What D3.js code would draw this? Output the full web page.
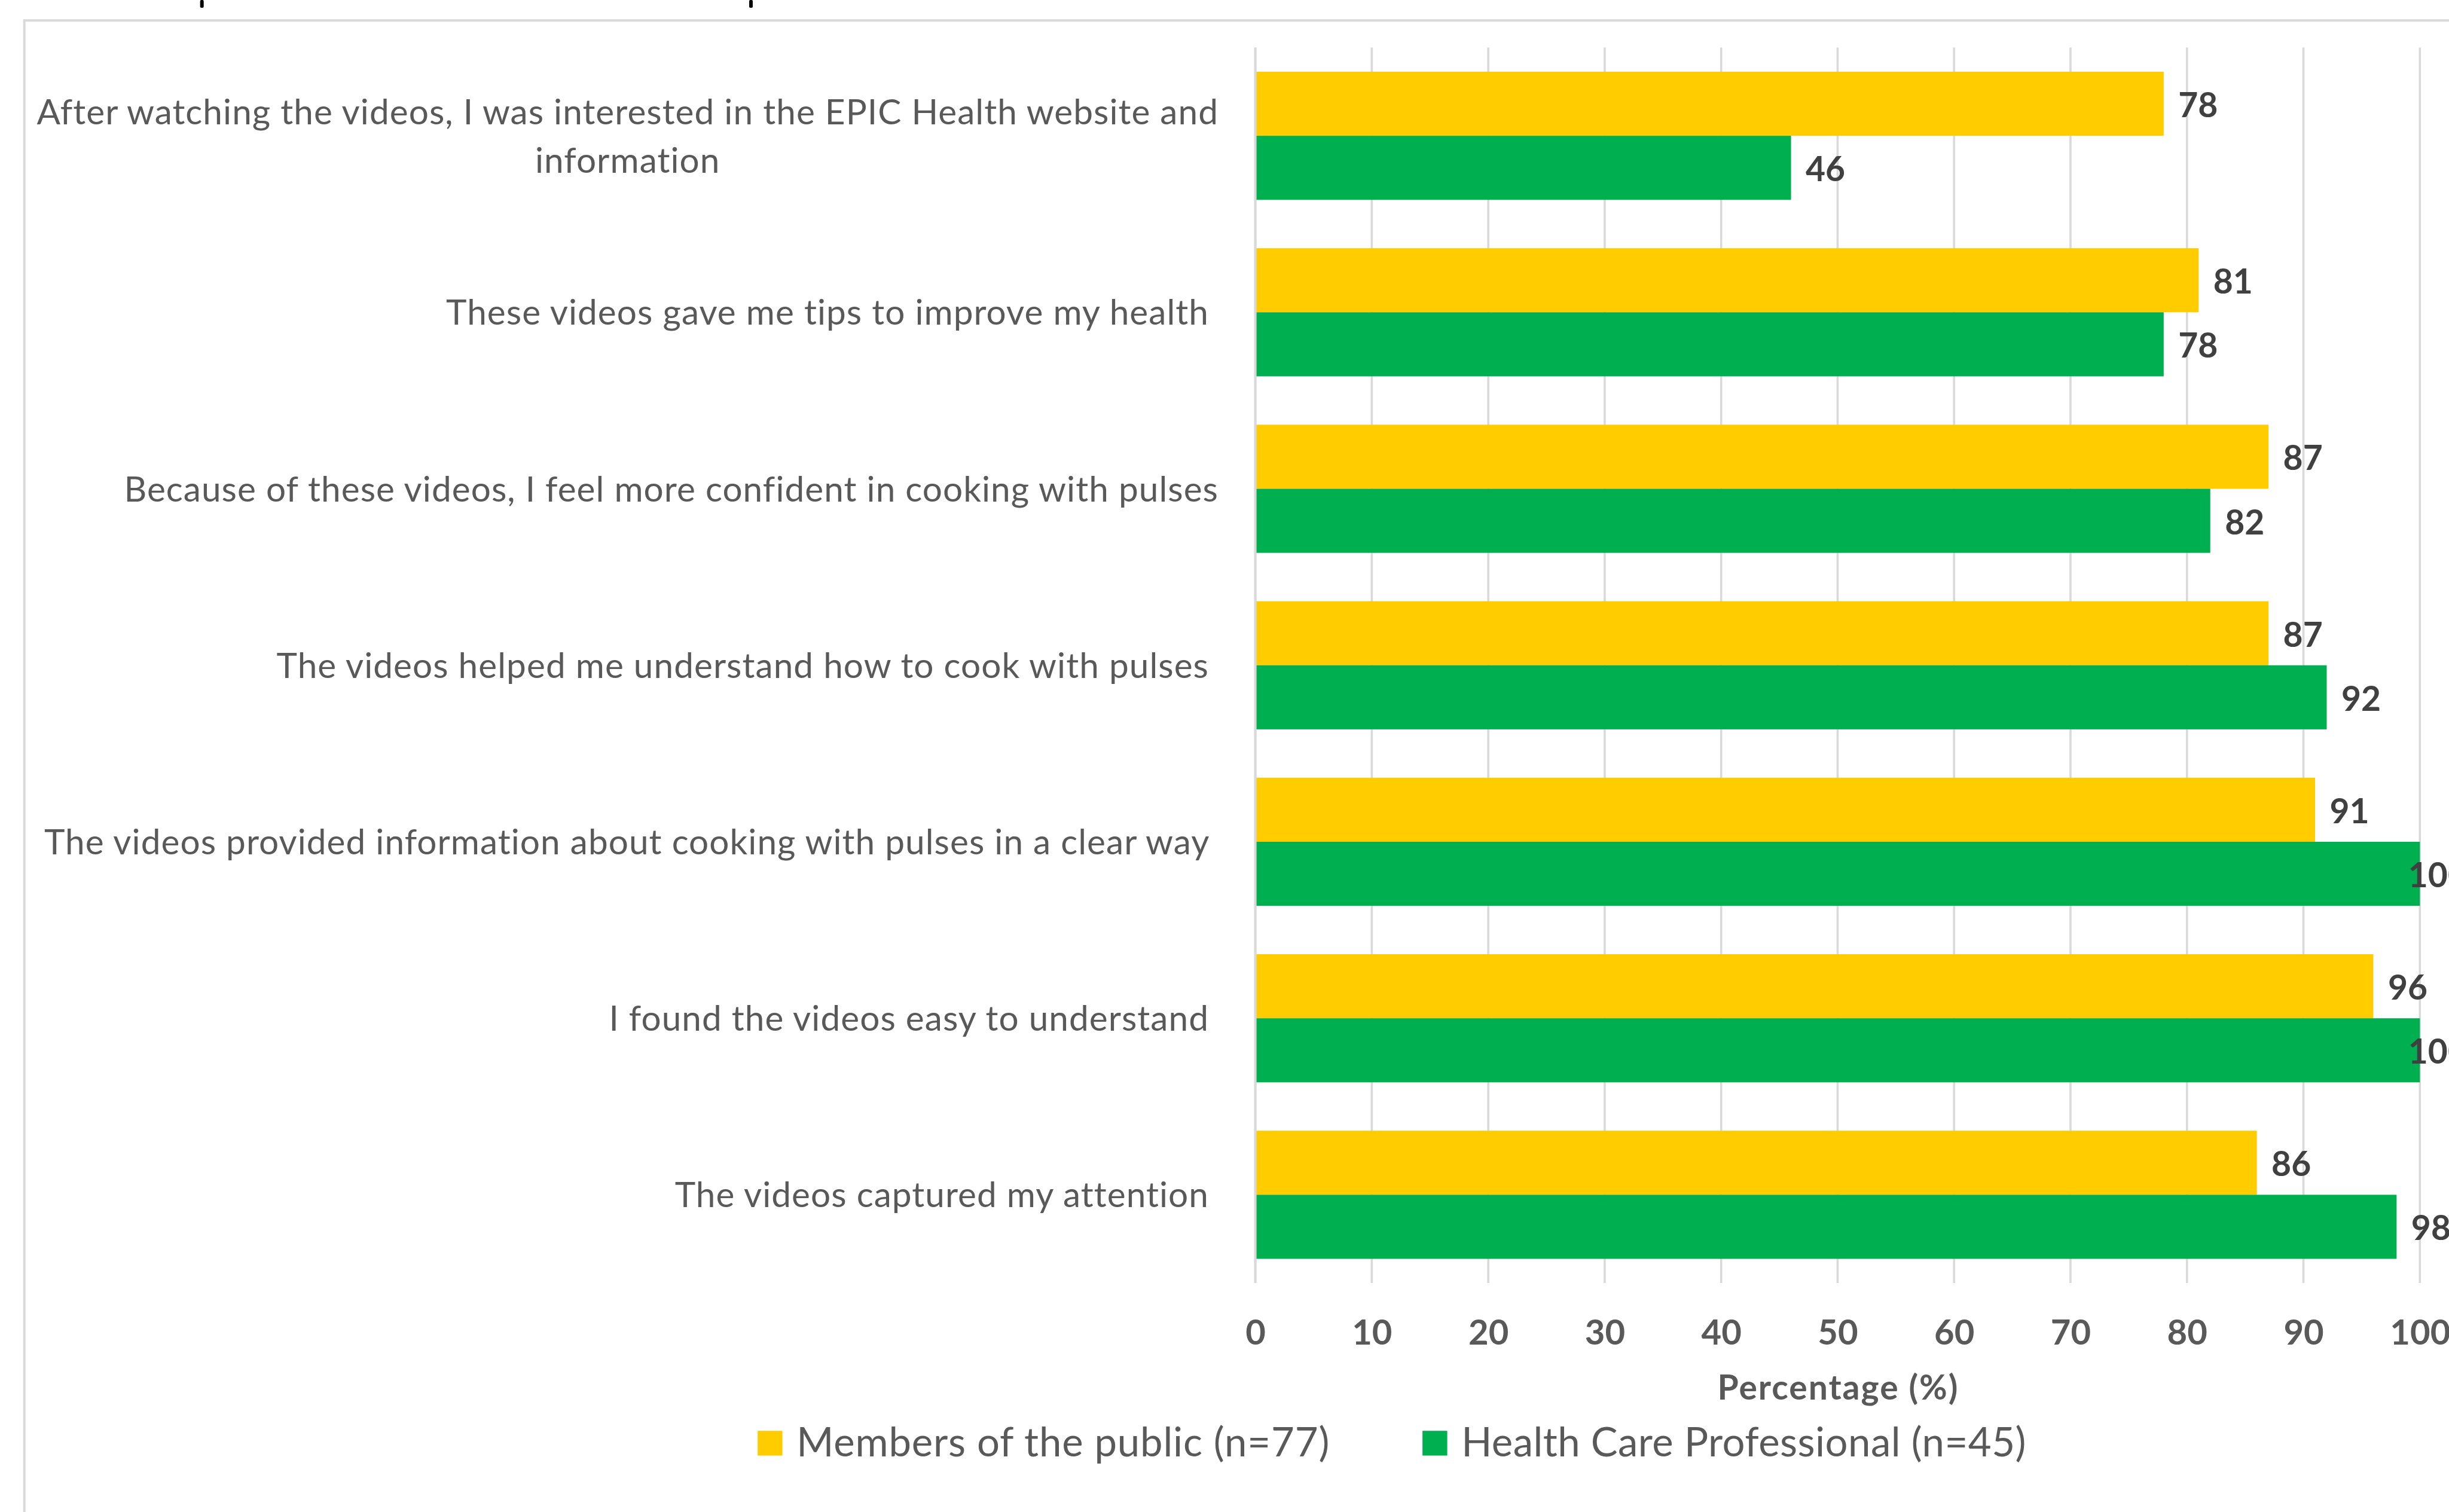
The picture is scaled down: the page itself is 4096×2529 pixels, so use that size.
<!DOCTYPE html>
<html>
<head>
<meta charset="utf-8">
<script src="https://cdn.jsdelivr.net/npm/d3@7"></script>
<style>
  html, body { margin: 0; padding: 0; background: #ffffff; overflow: hidden; }
  svg { display: block; }
  text { font-family: Lato, "Open Sans", sans-serif; }
</style>
</head>
<body>
<script>
// ---------------- data ----------------
const categories = [
  "After watching the videos, I was interested in the EPIC Health website and\ninformation",
  "These videos gave me tips to improve my health ",
  "Because of these videos, I feel more confident in cooking with pulses",
  "The videos helped me understand how to cook with pulses ",
  "The videos provided information about cooking with pulses in a clear way ",
  "I found the videos easy to understand ",
  "The videos captured my attention "
];
const seriesNames = ["Members of the public (n=77)", "Health Care Professional (n=45)"];
const publicValues = [78, 81, 87, 87, 91, 96, 86];
const hcpValues = [46, 78, 82, 92, 100, 100, 98];
const xTickValues = [0, 10, 20, 30, 40, 50, 60, 70, 80, 90, 100];
const axisTitle = "Percentage (%)";
const seriesColors = ["#FFCC00", "#00B050"];

// ---------------- layout ----------------
const W = 4096, H = 2529;
const plot = { left: 2099.6, right: 4047.3, top: 79.5, bottom: 2146 };
const chartRight = 4127;   // chart-area right edge (outside the window)
const labelRight = 2038;   // right edge of category labels

const svg = d3.select("body").append("svg")
  .attr("width", W).attr("height", H).attr("viewBox", `0 0 ${W} ${H}`);

// chart-area border (cropped in the original)
svg.append("rect")
  .attr("x", 40.7).attr("y", 34.2)
  .attr("width", 5000).attr("height", 5000)
  .attr("fill", "none").attr("stroke", "#d9d9d9").attr("stroke-width", 4);

// fragments of the cropped title above the chart
svg.append("g").selectAll("rect").data([337.7, 1256]).join("rect")
  .attr("x", d => d - 3).attr("y", 0).attr("width", 6).attr("height", 13)
  .attr("rx", 2).attr("fill", "#000");

const x = d3.scaleLinear().domain([0, 100]).range([plot.left, plot.right]);
const y = d3.scaleBand().domain(d3.range(categories.length))
  .range([plot.top, plot.bottom]).paddingInner(0.274).paddingOuter(0.137);
const ySub = d3.scaleBand().domain([0, 1]).range([0, y.bandwidth()]);

// gridlines
svg.append("g").selectAll("line").data(xTickValues).join("line")
  .attr("x1", d => x(d)).attr("x2", d => x(d))
  .attr("y1", plot.top).attr("y2", plot.bottom)
  .attr("stroke", "#d9d9d9").attr("stroke-width", 3.6);

// bars
const rows = categories.map((c, i) => ({ i, vals: [publicValues[i], hcpValues[i]] }));
const gRow = svg.append("g").selectAll("g").data(rows).join("g")
  .attr("transform", d => `translate(0,${y(d.i)})`);

gRow.selectAll("rect").data(d => d.vals.map((v, s) => ({ v, s }))).join("rect")
  .attr("x", x(0))
  .attr("y", d => ySub(d.s))
  .attr("width", d => x(d.v) - x(0))
  .attr("height", ySub.bandwidth())
  .attr("fill", d => seriesColors[d.s]);

// value labels
gRow.selectAll("text").data(d => d.vals.map((v, s) => ({ v, s }))).join("text")
  .text(d => d.v)
  .attr("y", d => ySub(d.s) + ySub.bandwidth() / 2 + 2)
  .attr("dy", "0.36em")
  .attr("font-size", 57).attr("font-weight", 700).attr("fill", "#404040")
  .attr("x", function(d) {
    const w = this.getComputedTextLength();
    let px = x(d.v) + 24.5;
    if (px + w > chartRight) px = chartRight - w;
    return px;
  });

// vertical axis line at 0
svg.append("line")
  .attr("x1", x(0)).attr("x2", x(0)).attr("y1", plot.top).attr("y2", plot.bottom)
  .attr("stroke", "#d9d9d9").attr("stroke-width", 4);

// x axis tick labels
const xAxis = d3.axisBottom(x).tickValues(xTickValues).tickSize(0).tickPadding(0);
const gx = svg.append("g").attr("transform", `translate(0,${plot.bottom})`).call(xAxis);
gx.select(".domain").remove();
gx.selectAll("text")
  .attr("y", 2248.7 - plot.bottom).attr("dy", null)
  .attr("font-family", "Lato, 'Open Sans', sans-serif")
  .attr("font-size", 58).attr("font-weight", 700).attr("fill", "#595959");

// axis title
svg.append("text").text(axisTitle)
  .attr("x", (plot.left + plot.right) / 2 + 1).attr("y", 2341.3)
  .attr("text-anchor", "middle")
  .attr("letter-spacing", 2)
  .attr("font-size", 57).attr("font-weight", 700).attr("fill", "#595959");

// category labels
const lineGap = 81;
categories.forEach((c, i) => {
  const lines = c.split("\n");
  const cy = y(i) + y.bandwidth() / 2;
  const t = svg.append("text")
    .attr("font-size", 58.5).attr("fill", "#595959")
    .attr("letter-spacing", 1.05)
    .style("white-space", "pre");
  const spans = lines.map((ln, k) => t.append("tspan").text(ln)
    .attr("y", cy + (k - (lines.length - 1) / 2) * lineGap)
    .attr("dy", "0.36em"));
  const widths = spans.map(s => s.node().getComputedTextLength());
  const maxW = d3.max(widths);
  spans.forEach(s => s.attr("x", labelRight - maxW / 2).attr("text-anchor", "middle"));
});

// legend
const legend = svg.append("g");
let lx = 1267.2;
const legendY = 2393.2, mk = 41.4;
seriesNames.forEach((name, s) => {
  legend.append("rect").attr("x", lx).attr("y", legendY)
    .attr("width", mk).attr("height", mk).attr("fill", seriesColors[s]);
  const t = legend.append("text").text(name)
    .attr("x", lx + 65).attr("y", 2436)
    .attr("letter-spacing", s === 0 ? 0.85 : 0.5)
    .attr("font-size", 67).attr("fill", "#595959");
  lx = lx + 65 + t.node().getComputedTextLength() + 155;
});
</script>
</body>
</html>
